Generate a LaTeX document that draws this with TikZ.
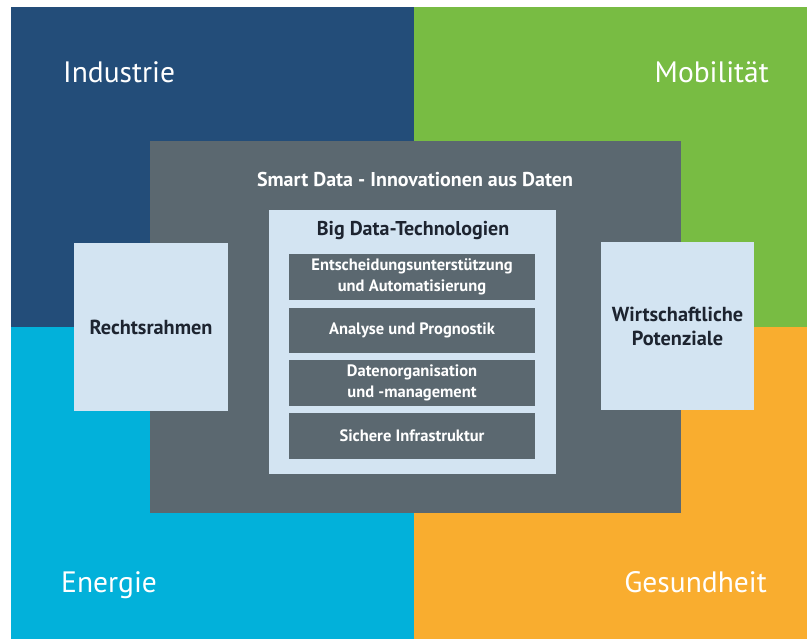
\documentclass[tikz,border=0pt]{standalone}
\usepackage{fontspec}
\setmainfont{PT Sans}
\begin{document}
\begin{tikzpicture}[x=1pt,y=-1pt,
  qlabel/.style={inner sep=0pt,text=white,font=\fontsize{29.5}{32}\selectfont},
  layer/.style={fill=grayband,draw=none,inner sep=0pt,minimum width=246pt,text=white,align=center,font=\bfseries\fontsize{16.5}{21.5}\selectfont},
  btext/.style={text=darktext,align=center,font=\bfseries\fontsize{20.3}{24}\selectfont}]
\definecolor{qblue}{HTML}{234D79}
\definecolor{qgreen}{HTML}{78BC43}
\definecolor{qcyan}{HTML}{02B1DA}
\definecolor{qorange}{HTML}{F9AD2F}
\definecolor{grayband}{HTML}{5B6870}
\definecolor{lightbox}{HTML}{D3E4F2}
\definecolor{darktext}{HTML}{1D2430}
\useasboundingbox (0,0) rectangle (807,640);
\fill[white] (0,0) rectangle (807,640);
% quadrants
\fill[qblue] (11,7) rectangle (414,327);
\fill[qgreen] (414,7) rectangle (807,327);
\fill[qcyan] (11,327) rectangle (414,639);
\fill[qorange] (414,327) rectangle (807,639);
\node[qlabel,anchor=base west] (ind) at (63,82) {Industrie};
\node[qlabel,anchor=base east] (mob) at (769,82) {Mobilität};
\node[qlabel,anchor=base west] (ene) at (61,592) {Energie};
\node[qlabel,anchor=base east] (ges) at (767,592) {Gesundheit};
% central gray frame
\fill[grayband] (150,141) rectangle (681,513);
\node[text=white,font=\bfseries\fontsize{20}{24}\selectfont] (smart) at (415,179) {Smart Data - Innovationen aus Daten};
% side boxes
\fill[lightbox] (74,243) rectangle (228,411);
\node[btext] (recht) at (151,327) {Rechtsrahmen};
\fill[lightbox] (601,242) rectangle (754,410);
\node[btext] (wirt) at (677.5,326) {Wirtschaftliche\\Potenziale};
% big data box
\fill[lightbox] (269,210) rectangle (556,474);
\node[btext,font=\bfseries\fontsize{20}{24}\selectfont] (big) at (413,231) {Big Data-Technologien};
\node[layer,minimum height=46pt] (l1) at (412,277) {Entscheidungsunterstützung\\und Automatisierung};
\node[layer,minimum height=45pt] (l2) at (412,330.5) {Analyse und Prognostik};
\node[layer,minimum height=46pt] (l3) at (412,383) {Datenorganisation\\und -management};
\node[layer,minimum height=46pt] (l4) at (412,436) {Sichere Infrastruktur};
\end{tikzpicture}
\end{document}
